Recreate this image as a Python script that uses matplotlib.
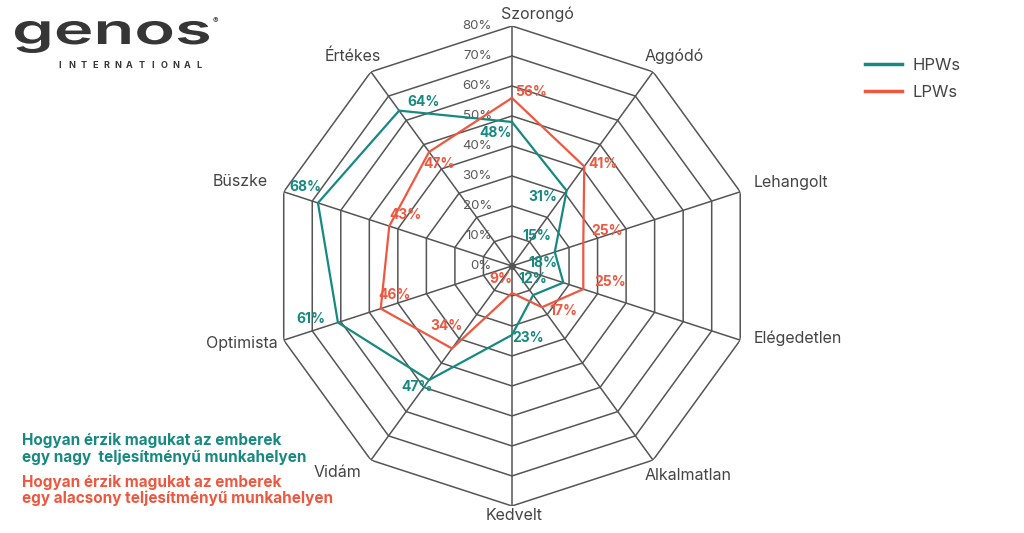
"""
Radar chart: how people feel at high vs low performance workplaces (Genos).
"""
import matplotlib
matplotlib.use('Agg')
import matplotlib.pyplot as plt
from matplotlib.lines import Line2D
from matplotlib.textpath import TextPath
from matplotlib.font_manager import FontProperties
from matplotlib.patches import PathPatch
from matplotlib.transforms import Affine2D, IdentityTransform
import numpy as np

plt.rcParams['font.family'] = ['Inter', 'DejaVu Sans']

# ── Data ───────────────────────────────────────────────────────────────────────
categories = ["Szorongó", "Aggódó", "Lehangolt", "Elégedetlen", "Alkalmatlan",
              "Kedvelt", "Vidám", "Optimista", "Büszke", "Értékes"]
hpw = [48, 31, 15, 18, 12, 23, 47, 61, 68, 64]
lpw = [56, 41, 25, 25, 17, 9, 34, 46, 43, 47]
rings = [10, 20, 30, 40, 50, 60, 70, 80]
tick_labels = ["0%", "10%", "20%", "30%", "40%", "50%", "60%", "70%", "80%"]
caption_hpw = ["Hogyan érzik magukat az emberek", "egy nagy  teljesítményű munkahelyen"]
caption_lpw = ["Hogyan érzik magukat az emberek", "egy alacsony teljesítményű munkahelyen"]

TEAL = '#168a80'
RED = '#ee5840'
GRID = '#555555'
TXT = '#444444'
LOGO = '#363636'

# ── Label placement (pixels, y down) ──────────────────────────────────────────
cat_off = [(25, -12, 'center'), (21, -16, 'center'), (13, -9, 'left'),
           (13, -2, 'left'), (35, 15, 'center'), (2, 10, 'center'),
           (-33, 12, 'center'), (-6, 3, 'right'), (-16, -10, 'right'),
           (-18, -16, 'center')]
hpw_off = [(-16, 11), (-24, 6), (-18, -16), (-20, -20), (0, -16),
           (16, 3), (-12, 7), (-27, -4), (-13, -16), (24, -9)]
lpw_off = [(19, -6), (19, -2), (24, -12), (27, -7), (21, 4),
           (-11, -14), (-6, -22), (14, -14), (16, -11), (10, 12)]

# ── Figure ─────────────────────────────────────────────────────────────────────
W, H = 1024, 533
fig = plt.figure(figsize=(W / 100, H / 100), dpi=100)
ax = fig.add_axes([0.2656, 0.0507, 0.46875, 0.9006], projection='polar')
ax.set_theta_zero_location('N')
ax.set_theta_direction(-1)
ax.set_ylim(0, 80)
ax.set_axis_off()

n = len(categories)
theta = np.arange(n) * 2 * np.pi / n
theta_c = np.append(theta, theta[0])

# polygon grid
for r in rings:
    ax.plot(theta_c, [r] * (n + 1), color=GRID, lw=1.1, zorder=1)
for t in theta:
    ax.plot([t, t], [0, rings[-1]], color=GRID, lw=1.1, zorder=1)
ax.plot([0], [0], 'o', color=GRID, ms=4, zorder=1)

# radial tick labels along the top spoke
for i, lab in enumerate(tick_labels):
    ax.annotate(lab, xy=(0, i * 10), xytext=(-20, 0), textcoords='offset pixels',
                ha='right', va='center', fontsize=9.5, color='#595959', zorder=2)

# category labels
for t, lab, (dx, dy, ha) in zip(theta, categories, cat_off):
    ax.annotate(lab, xy=(t, rings[-1]), xytext=(dx, -dy), textcoords='offset pixels',
                ha=ha, va='center', fontsize=11.5, color=TXT, annotation_clip=False)

# series
ax.plot(theta_c, np.append(hpw, hpw[0]), color=TEAL, lw=1.6, zorder=3)
ax.plot(theta_c, np.append(lpw, lpw[0]), color=RED, lw=1.6, zorder=3)

for t, v, (dx, dy) in zip(theta, hpw, hpw_off):
    ax.annotate(f"{v}%", xy=(t, v), xytext=(dx, -dy), textcoords='offset pixels',
                ha='center', va='center', fontsize=10, fontweight='bold',
                color=TEAL, zorder=4)
for t, v, (dx, dy) in zip(theta, lpw, lpw_off):
    ax.annotate(f"{v}%", xy=(t, v), xytext=(dx, -dy), textcoords='offset pixels',
                ha='center', va='center', fontsize=10, fontweight='bold',
                color=RED, zorder=4)

# legend
handles = [Line2D([], [], color=TEAL, lw=2.5, label='HPWs'),
           Line2D([], [], color=RED, lw=2.5, label='LPWs')]
fig.legend(handles=handles, loc='upper left', bbox_to_anchor=(857 / W, 1 - 50 / H),
           frameon=False, fontsize=12, handlelength=2.2, handletextpad=0.6,
           labelspacing=0.7, borderpad=0, labelcolor=TXT)

# bottom-left captions, one text per line
for line, y in zip(caption_hpw, [440, 457]):
    fig.text(22 / W, 1 - y / H, line, color=TEAL, fontsize=11, fontweight='bold',
             va='center', ha='left')
for line, y in zip(caption_lpw, [482, 498]):
    fig.text(22 / W, 1 - y / H, line, color=RED, fontsize=11, fontweight='bold',
             va='center', ha='left')

# logo: wide "genos" wordmark
fp = FontProperties(family='Inter', weight='semibold')
tp = TextPath((0, 0), "genos", size=1, prop=fp)
xh = TextPath((0, 0), "n", size=1, prop=fp).get_extents().y1
ext = tp.get_extents()
sy = 23 / xh
sx = 194 / ext.width
trans = Affine2D().translate(-ext.x0, 0).scale(sx, sy).translate(15, H - 44) + IdentityTransform()
fig.patches.append(PathPatch(tp, facecolor=LOGO, edgecolor='none', transform=trans))
for i, ch in enumerate("INTERNATIONAL"):
    fig.text((60 + i * 11.6) / W, 1 - 66 / H, ch, fontsize=6.5, color=LOGO,
             fontweight='bold', va='center', ha='center')
fig.text(213 / W, 1 - 21 / H, "®", fontsize=6, color=LOGO, va='center')

fig.savefig("out.png", dpi=100)
plt.close(fig)
